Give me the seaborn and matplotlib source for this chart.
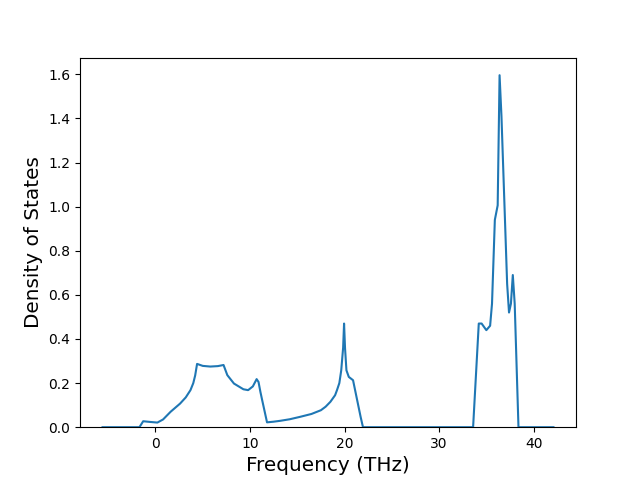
import numpy as np
import pandas as pd
import matplotlib
matplotlib.use("Agg")
import matplotlib.pyplot as plt
import seaborn as sns

# frequency (THz) and DOS
freq = [-5.6, -2.0, -1.7, -1.3, -0.6, 0.2, 0.8, 1.6, 2.6, 3.2, 3.7, 4.0, 4.2, 4.4,
        5.0, 5.8, 6.6, 7.2, 7.6, 8.3, 9.3, 9.8, 10.3, 10.7, 10.9, 11.1, 11.3,
        11.8, 12.5, 13.2, 14.2, 15.3, 16.5, 17.5, 18.0, 18.5, 19.0, 19.2, 19.45,
        19.65, 19.85, 19.95, 20.05, 20.2,
        20.45, 20.9, 21.7, 21.95, 33.6, 34.2, 34.5, 35.0, 35.4, 35.6, 35.9,
        36.2, 36.4, 36.6, 37.2, 37.4, 37.6, 37.8, 38.0, 38.4, 42.1]
dos = [0.0, 0.0, 0.0, 0.027, 0.024, 0.021, 0.035, 0.07, 0.107, 0.135, 0.168, 0.2, 0.235, 0.287,
       0.278, 0.275, 0.277, 0.282, 0.236, 0.198, 0.172, 0.168, 0.185, 0.218, 0.205, 0.16, 0.12,
       0.022, 0.025, 0.029, 0.036, 0.047, 0.06, 0.077, 0.093, 0.115, 0.145, 0.168, 0.2,
       0.258, 0.36, 0.47, 0.36, 0.258,
       0.228, 0.213, 0.047, 0.0, 0.0, 0.47, 0.47, 0.44, 0.46, 0.56, 0.94,
       1.006, 1.596, 1.41, 0.65, 0.52, 0.56, 0.69, 0.56, 0.0, 0.0]

df = pd.DataFrame({"Frequency": freq, "DOS": dos})

fig, ax = plt.subplots(figsize=(6.4, 4.8), dpi=100)
sns.lineplot(data=df, x="Frequency", y="DOS", sort=False, color="C0", linewidth=1.5, ax=ax)
ax.set_ylim(bottom=0)
ax.set_xlabel("Frequency (THz)", fontsize="x-large")
ax.set_ylabel("Density of States", fontsize="x-large")
fig.savefig("out.png", dpi=100)
